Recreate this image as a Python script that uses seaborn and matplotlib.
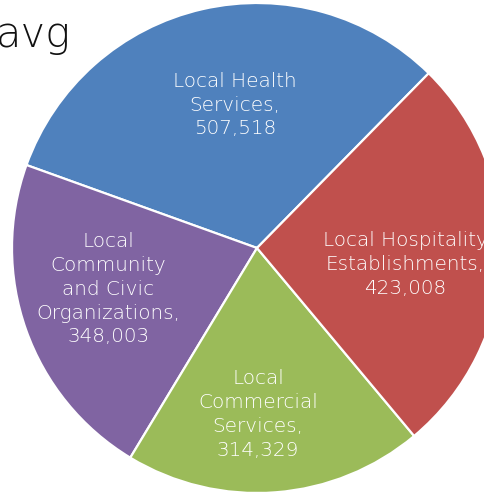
import matplotlib
matplotlib.use("Agg")
import matplotlib.pyplot as plt
import seaborn as sns
import numpy as np

sns.set_style("white")
plt.rcParams['font.family'] = ['DejaVu Sans']

categories = ["Local Health\nServices,", "Local\nCommunity\nand Civic\nOrganizations,",
              "Local\nCommercial\nServices,", "Local Hospitality\nEstablishments,"]
values = [507518, 348003, 314329, 423008]
colors = sns.color_palette(["#4F81BD", "#8064A2", "#9BBB59", "#C0504D"])
title_text = "avg"

W, H = 484, 492
fig = plt.figure(figsize=(W / 100, H / 100), dpi=100)
cx, cy, r = 257, 248, 245
ax = fig.add_axes([(cx - r) / W, (H - cy - r) / H, 2 * r / W, 2 * r / H])

label_dist = [0.59, 0.63, 0.68, 0.61]
label_rot = -4.0
labels = [f"{c}\n{v:,}" for c, v in zip(categories, values)]
wedges, texts = ax.pie(values, labels=labels, colors=colors, startangle=45.5,
                       counterclock=True, radius=1, labeldistance=0.62,
                       wedgeprops=dict(edgecolor="white", linewidth=1.6),
                       textprops=dict(color="white", fontsize=14.4, fontweight="light"))
for w, t, d in zip(wedges, texts, label_dist):
    ang = np.deg2rad((w.theta1 + w.theta2) / 2 + label_rot)
    t.set_position((d * np.cos(ang), d * np.sin(ang)))
    t.set_ha("center")
    t.set_va("center")
    t.set_linespacing(1.32)
    t.set_clip_on(False)

ax.set_xlim(-1, 1)
ax.set_ylim(-1, 1)
ax.set_aspect("equal", adjustable="box")
ax.axis("off")

fig.text(-4 / W, 1 - 47 / H, title_text, fontsize=30, color="#111111",
         ha="left", va="baseline", fontweight="light")

fig.savefig("out.png", dpi=100)
